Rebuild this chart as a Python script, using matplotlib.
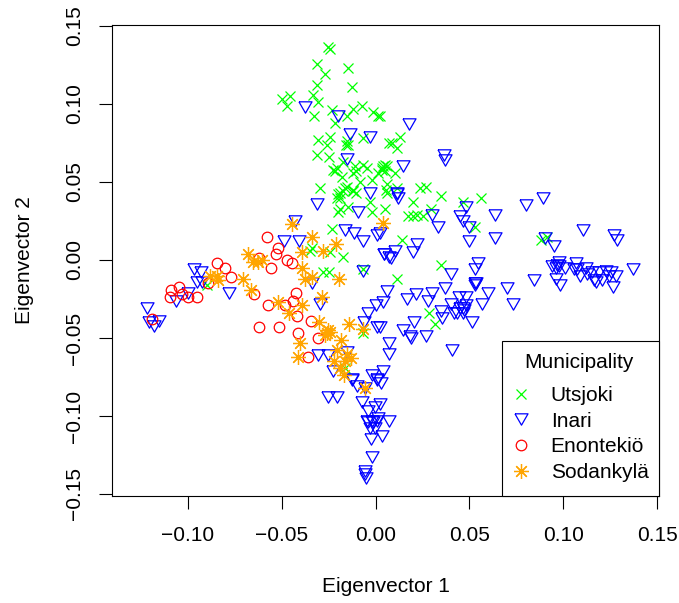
import matplotlib
matplotlib.use("Agg")
import matplotlib.pyplot as plt
from matplotlib.patches import Rectangle

plt.rcParams['font.family'] = ['Liberation Sans', 'DejaVu Sans']

utsjoki_x = [-0.0255,-0.0245,-0.0314,-0.0149,-0.0271,-0.0314,-0.0128,-0.0335,-0.05,-0.0457,-0.0473,-0.0309,-0.033,-0.0234,-0.0154,-0.0122,-0.0074,-0.0016,0.0011,-0.0218,-0.0309,-0.0245,-0.0261,-0.0154,-0.0149,-0.016,-0.0069,0.0074,-0.0314,-0.025,-0.0176,-0.0229,-0.0218,-0.0207,-0.0181,-0.0112,-0.0106,-0.0122,-0.0069,-0.0048,0.0011,0.0037,0.0032,0.0059,-0.0021,-0.0085,0.0059,0.0053,-0.0298,-0.0165,-0.0154,-0.0176,-0.0122,-0.0106,-0.0122,-0.0202,-0.0191,-0.0207,-0.0191,-0.0202,-0.0191,-0.0149,-0.0032,-0.0021,0.0048,-0.0234,-0.034,-0.0351,-0.0245,-0.0176,0.0021,0.0128,0.009,0.0112,0.0048,0.0032,0.0048,0.0101,0.0059,0.0112,0.0239,0.0266,0.0351,0.0197,0.017,0.0197,0.0223,0.025,0.0293,0.0463,0.0559,0.0532,0.0138,0.0351,0.0112,0.0282,0.0314,0.0883,0.0915,-0.0069,-0.0069,-0.0282,-0.025,-0.0899,-0.0165]
utsjoki_y = [0.1365,0.135,0.1256,0.123,0.119,0.112,0.111,0.106,0.103,0.105,0.099,0.101,0.092,0.096,0.092,0.097,0.099,0.095,0.092,0.088,0.077,0.079,0.074,0.076,0.074,0.074,0.078,0.075,0.067,0.066,0.063,0.058,0.057,0.059,0.053,0.06,0.057,0.056,0.061,0.059,0.056,0.06,0.058,0.06,0.051,0.05,0.049,0.045,0.046,0.046,0.047,0.044,0.044,0.043,0.045,0.042,0.043,0.04,0.04,0.031,0.033,0.034,0.037,0.031,0.033,0.02,0.008,0.006,0.005,0.002,0.092,0.079,0.075,0.072,0.061,0.059,0.057,0.056,0.043,0.046,0.046,0.047,0.041,0.037,0.028,0.028,0.029,0.028,0.033,0.037,0.04,0.021,0.013,-0.003,-0.012,-0.034,-0.041,0.013,0.015,-0.047,-0.006,-0.008,-0.008,-0.016,-0.069]

inari_x = [-0.0378,-0.0202,-0.0138,-0.0032,-0.0154,-0.0032,-0.0314,-0.0096,-0.0431,-0.0165,-0.0117,-0.0069,0.0005,-0.0489,-0.041,0.0043,0.0074,0.0176,0.0362,0.0367,0.0144,0.0112,0.0112,0.0117,0.0479,0.0298,0.0638,0.0803,0.0894,0.0447,0.0468,0.05,0.0335,0.0638,0.0495,0.0904,0.0952,0.1107,0.1271,0.1287,0.0021,0.0218,0.0197,0.0101,0.008,0.0043,0.0399,0.0548,0.0527,0.0532,0.0537,0.0527,0.0702,0.0846,0.0942,0.0979,0.0968,0.0979,0.0963,0.0963,0.0984,0.1011,0.1069,0.1059,0.1075,0.1091,0.1123,0.1128,0.1154,0.1165,0.1176,0.1208,0.1192,0.1229,0.1245,0.1256,0.1282,0.1266,0.1373,0.0059,0.0165,0.0213,0.0298,0.0277,0.0372,0.0596,0.0569,0.0734,0.0442,0.0484,0.0399,0.0447,0.0463,0.0484,0.0436,0.0463,0.042,0.0473,0.0346,0.0356,0.0516,0.0202,0.0144,0.0181,0.0191,0.0266,0.0069,0.0037,0.0021,-0.1218,-0.1208,-0.1181,-0.1154,-0.1064,-0.1,-0.0968,-0.0931,-0.0952,-0.0926,-0.0782,-0.034,-0.0069,-0.0298,-0.0043,-0.0064,0.0,0.0005,-0.0309,-0.0255,-0.0154,-0.0229,-0.0128,-0.0128,-0.0021,0.0005,-0.0101,-0.0059,0.0069,0.0409,-0.0255,-0.0207,0.0037,0.0005,0.0027,-0.0074,0.0021,-0.0005,-0.0043,0.0011,-0.0048,-0.0021,0.0005,-0.0043,-0.0016,-0.0032,-0.0005,0.0069,0.0032,-0.0027,-0.0021,-0.0059,-0.0059,-0.0053]
inari_y = [0.098,0.092,0.081,0.079,0.065,0.043,0.036,0.031,0.025,0.019,0.017,0.012,0.016,0.012,0.012,0.004,0.002,0.087,0.067,0.064,0.06,0.043,0.042,0.04,0.034,0.029,0.029,0.035,0.04,0.028,0.025,0.021,0.021,0.014,0.012,0.014,0.009,0.019,0.016,0.013,0.017,0.01,0.005,0.006,0.001,0.004,-0.009,-0.002,-0.006,-0.015,-0.015,-0.016,-0.018,-0.013,-0.004,-0.001,-0.003,-0.004,-0.005,-0.012,-0.016,-0.005,-0.002,-0.006,-0.006,-0.01,-0.005,-0.009,-0.008,-0.013,-0.014,-0.013,-0.008,-0.007,-0.01,-0.008,-0.01,-0.017,-0.006,-0.02,-0.025,-0.022,-0.021,-0.026,-0.018,-0.021,-0.028,-0.028,-0.024,-0.024,-0.028,-0.031,-0.031,-0.029,-0.034,-0.034,-0.034,-0.032,-0.033,-0.037,-0.04,-0.04,-0.045,-0.049,-0.05,-0.049,-0.053,-0.027,-0.043,-0.031,-0.04,-0.042,-0.039,-0.026,-0.021,-0.006,-0.008,-0.014,-0.014,-0.021,-0.015,-0.007,-0.028,-0.034,-0.04,-0.029,-0.043,-0.061,-0.061,-0.059,-0.071,-0.076,-0.077,-0.074,-0.077,-0.081,-0.082,-0.06,-0.058,-0.088,-0.088,-0.071,-0.076,-0.079,-0.091,-0.092,-0.094,-0.097,-0.101,-0.103,-0.103,-0.103,-0.104,-0.104,-0.108,-0.108,-0.103,-0.113,-0.115,-0.126,-0.135,-0.137,-0.14]

enontekio_x = [-0.058,-0.0521,-0.0532,-0.0622,-0.0473,-0.0447,-0.0559,-0.0846,-0.0803,-0.0771,-0.0894,-0.109,-0.1048,-0.1032,-0.1096,-0.1,-0.0952,-0.0649,-0.0426,-0.0442,-0.0575,-0.0484,-0.042,-0.0346,-0.0622,-0.0516,-0.0415,-0.0309,-0.0362,-0.1192]
enontekio_y = [0.015,0.008,0.004,0.001,0.0,-0.002,-0.005,-0.002,-0.005,-0.011,-0.015,-0.019,-0.017,-0.022,-0.024,-0.024,-0.024,-0.022,-0.021,-0.026,-0.029,-0.029,-0.036,-0.039,-0.043,-0.043,-0.047,-0.05,-0.062,-0.038]

sodankyla_x = [-0.0447,-0.034,-0.0213,-0.0394,-0.0282,-0.0681,-0.0654,-0.0606,-0.0628,-0.0394,-0.0378,-0.034,-0.0197,-0.0883,-0.0846,-0.084,-0.0707,-0.0665,-0.0521,-0.0463,-0.0394,-0.0287,-0.0303,-0.0144,-0.0069,-0.0255,-0.0261,-0.0245,-0.0271,-0.0186,-0.0404,-0.0415,-0.0207,-0.0223,-0.0154,-0.0133,-0.0165,-0.0191,-0.017,-0.0059,0.0037]
sodankyla_y = [0.023,0.015,0.01,0.005,0.006,0.004,-0.001,0.0,-0.001,-0.005,-0.012,-0.011,-0.012,-0.01,-0.01,-0.013,-0.012,-0.019,-0.027,-0.034,-0.029,-0.024,-0.04,-0.041,-0.044,-0.045,-0.047,-0.046,-0.048,-0.051,-0.053,-0.062,-0.058,-0.065,-0.06,-0.063,-0.065,-0.069,-0.074,-0.082,0.024]

x_ticks = [-0.10, -0.05, 0.00, 0.05, 0.10, 0.15]
y_ticks = [-0.15, -0.10, -0.05, 0.00, 0.05, 0.10, 0.15]
x_tick_labels = ['\u22120.10', '\u22120.05', '0.00', '0.05', '0.10', '0.15']
y_tick_labels = ['\u22120.15', '\u22120.10', '\u22120.05', '0.00', '0.05', '0.10', '0.15']

W, H = 679, 603
FS = 15
fig = plt.figure(figsize=(W / 100, H / 100), dpi=100)
ax = fig.add_axes([111.7 / W, 1 - 495.7 / H, (659.3 - 111.7) / W, (495.7 - 24.7) / H])

tri = [(-1, 0.87), (1, 0.87), (0, -0.87), (-1, 0.87)]
common = dict(linestyle='none', markerfacecolor='none', markeredgewidth=0.9)
ax.plot(utsjoki_x, utsjoki_y, marker='x', color='#00FF00', markersize=7.8, label='Utsjoki', **common)
ax.plot(inari_x, inari_y, marker=tri, color='#0000FF', markersize=9.4, label='Inari', **common)
ax.plot(enontekio_x, enontekio_y, marker='o', color='#FF0000', markersize=7.6, label='Enonteki\u00f6', **common)
ax.plot(sodankyla_x, sodankyla_y, marker=(8, 2, 0), color='#FFA500', markersize=10.8, label='Sodankyl\u00e4', **common)

ax.set_xlim(-0.14055, 0.15110)
ax.set_ylim(-0.15110, 0.15083)
ax.set_xticks(x_ticks, x_tick_labels)
ax.set_yticks(y_ticks, y_tick_labels)
ax.tick_params(axis='both', length=9.5, width=0.8, labelsize=FS, color='black')
ax.tick_params(axis='x', pad=12)
ax.tick_params(axis='y', pad=10.5)
for t in ax.get_yticklabels():
    t.set_rotation(90)
    t.set_va('center')
for s in ax.spines.values():
    s.set_linewidth(0.8)

ax.set_xlabel('Eigenvector 1', fontsize=FS, labelpad=23)
ax.set_ylabel('Eigenvector 2', fontsize=FS, labelpad=22.5)

ax.add_patch(Rectangle((0.7122, 0), 0.2878, 0.3285, transform=ax.transAxes, facecolor='white',
                       edgecolor='black', linewidth=0.8, zorder=4.5, clip_on=False))
leg = ax.legend(title='Municipality', loc='upper left', bbox_to_anchor=(0.7268, 0.302),
                borderaxespad=0, frameon=False, fontsize=FS, title_fontsize=FS,
                labelspacing=0.32, handlelength=1.09, handletextpad=0.88, borderpad=0, numpoints=1)
leg._legend_box.sep = 9.7

fig.savefig('out.png', dpi=100)
